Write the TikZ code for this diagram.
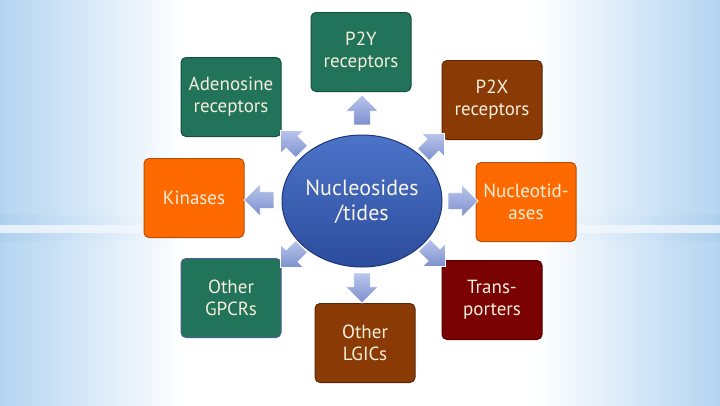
\documentclass[tikz,border=0pt]{standalone}
\usepackage{fontspec}
\setmainfont{PT Sans}
\usetikzlibrary{shapes.arrows}
\definecolor{bgblue}{HTML}{B3D4F1}
\definecolor{bandblue}{HTML}{A9CDEF}
\definecolor{teal}{HTML}{21735A}
\definecolor{tealdk}{HTML}{164F3E}
\definecolor{brownb}{HTML}{8A3B05}
\definecolor{browndk}{HTML}{5E2803}
\definecolor{orangeb}{HTML}{FF6A00}
\definecolor{orangedk}{HTML}{B84D05}
\definecolor{redb}{HTML}{7A0202}
\definecolor{reddk}{HTML}{520101}
\definecolor{txt}{HTML}{F5EEDC}
\definecolor{elltop}{HTML}{4C74C9}
\definecolor{ellbot}{HTML}{2C4C9C}
\definecolor{elldk}{HTML}{1E3778}
\definecolor{arrtop}{HTML}{B9C5EC}
\definecolor{arrbot}{HTML}{7D90CE}
\tikzset{
  box/.style={rounded corners=5pt, minimum width=100pt, minimum height=79pt, align=center,
    text=txt, font=\fontsize{19}{22}\selectfont, line width=1pt, inner sep=2pt},
  tealbox/.style={box, fill=teal, draw=tealdk},
  brownbox/.style={box, fill=brownb, draw=browndk},
  orangebox/.style={box, fill=orangeb, draw=orangedk},
  redbox/.style={box, fill=redb, draw=reddk},
  barrow/.style={single arrow, minimum height=30pt, inner xsep=0pt, inner ysep=8pt,
    single arrow head extend=8pt, top color=arrtop, bottom color=arrbot, draw=white, line width=0.6pt}
}
\begin{document}
\begin{tikzpicture}[x=1pt,y=-1pt]
\useasboundingbox (0,0) rectangle (720,405);
% background
\fill[white] (0,0) rectangle (720,405);
\shade[left color=bgblue, right color=white] (0,0) rectangle (185,405);
\shade[left color=white, right color=bgblue] (535,0) rectangle (720,405);
% horizontal light band
\shade[left color=bandblue, right color=white, fill opacity=0.6] (0,215) rectangle (190,240);
\shade[left color=white, right color=bandblue, fill opacity=0.6] (530,215) rectangle (720,240);
\shade[left color=white, right color=white!85!bandblue, fill opacity=0.7] (0,225) rectangle (150,232);
\shade[left color=white!85!bandblue, right color=white, fill opacity=0.7] (570,225) rectangle (720,232);
% boxes
\node[tealbox] (p2y) at (361,52) {P2Y\\receptors};
\node[brownbox] (p2x) at (492,100) {P2X\\receptors};
\node[tealbox] (aden) at (231,97) {Adenosine\\receptors};
\node[orangebox] (kin) at (194,198) {Kinases};
\node[orangebox] (nuc) at (526,202) {Nucleotid-\\ases};
\node[tealbox, draw=elldk!80] (gpcr) at (231,298) {Other\\GPCRs};
\node[redbox] (trans) at (492,300) {Trans-\\porters};
\node[brownbox] (lgic) at (365,343) {Other\\LGICs};
% center ellipse
\draw[elldk, line width=1pt, top color=elltop, bottom color=ellbot] (362,201) ellipse [x radius=80pt, y radius=66pt];
\node[text=txt!60!white, font=\fontsize{22}{25}\selectfont, align=center] (nuc0) at (362,202) {Nucleosides\\/tides};
% arrows
\node[barrow, rotate=90] (a1) at (362,114) {};
\node[barrow, rotate=-90] (a2) at (362,284) {};
\node[barrow, rotate=180] (a3) at (263,200) {};
\node[barrow, rotate=0] (a4) at (459,201) {};
\node[barrow, rotate=135] (a5) at (294,144) {};
\node[barrow, rotate=45] (a6) at (431,147) {};
\node[barrow, rotate=-135] (a7) at (294,254) {};
\node[barrow, rotate=-45] (a8) at (432,253) {};
\end{tikzpicture}
\end{document}
